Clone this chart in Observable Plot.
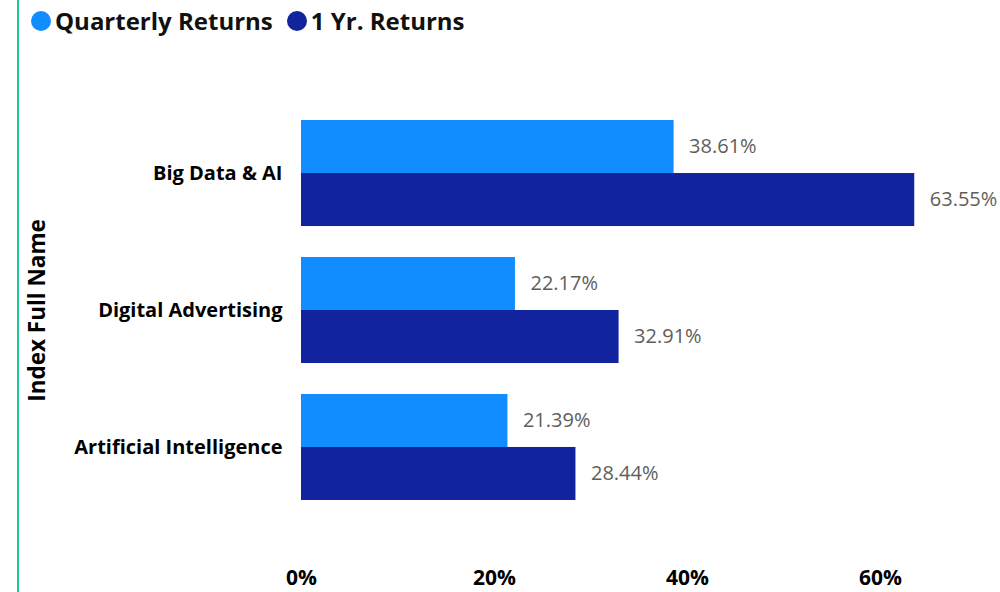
<!DOCTYPE html>
<html>
<head>
<meta charset="utf-8">
<script src="https://cdn.jsdelivr.net/npm/d3@7"></script>
<script src="https://cdn.jsdelivr.net/npm/@observablehq/plot@0.6"></script>
<style>
  html, body { margin: 0; padding: 0; background: #fff; }
  body { font-family: "Segoe UI", "Open Sans", "Noto Sans", sans-serif; }
  #wrap { position: relative; width: 1000px; height: 592px; overflow: hidden; }
  #edge { position: absolute; left: 17px; top: 0; width: 2px; height: 592px; background: #1ec795; }
  #legend { position: absolute; left: 31px; top: 4px; display: flex; align-items: center; font-weight: bold; font-size: 24px; color: #111; }
  #legend .item { display: flex; align-items: center; margin-right: 14px; }
  #legend .dot { width: 20px; height: 20px; border-radius: 50%; margin-right: 4px; }
  #chart { position: absolute; left: 0; top: 0; }
  #chart g[aria-label="fy-axis label"] text { font-weight: bold; font-size: 22.5px; }
</style>
</head>
<body>
<div id="wrap">
  <div id="edge"></div>
  <div id="chart"></div>
  <div id="legend"></div>
</div>
<script>
const categories = ["Big Data & AI", "Digital Advertising", "Artificial Intelligence"];
const series = ["Quarterly Returns", "1 Yr. Returns"];
const seriesColors = ["#118dff", "#12239e"];
const quarterly = [38.61, 22.17, 21.39];
const yearly = [63.55, 32.91, 28.44];
const xTicks = [0, 20, 40, 60];

const data = categories.flatMap((c, i) => [
  {category: c, series: series[0], value: quarterly[i]},
  {category: c, series: series[1], value: yearly[i]}
]);

const legend = document.getElementById("legend");
series.forEach((s, i) => {
  const item = document.createElement("div");
  item.className = "item";
  const dot = document.createElement("span");
  dot.className = "dot";
  dot.style.background = seriesColors[i];
  const label = document.createElement("span");
  label.textContent = s;
  item.appendChild(dot);
  item.appendChild(label);
  legend.appendChild(item);
});

const chart = Plot.plot({
  width: 1000,
  height: 592,
  marginLeft: 301,
  marginRight: 23.5,
  marginTop: 120,
  marginBottom: 92,
  style: {fontFamily: '"Segoe UI", "Open Sans", "Noto Sans", sans-serif', background: "transparent", color: "#000"},
  x: {domain: [0, 70], axis: null},
  y: {domain: series, axis: null, padding: 0, round: false},
  fy: {domain: categories, paddingInner: 0.226, paddingOuter: 0, axis: null, round: false},
  color: {domain: series, range: seriesColors},
  marks: [
    Plot.barX(data, {fy: "category", y: "series", x: "value", fill: "series"}),
    Plot.text(data, {
      fy: "category", y: "series", x: "value",
      text: d => d.value.toFixed(2) + "%",
      textAnchor: "start", dx: 15, fill: "#605e5c", fontSize: 20
    }),
    Plot.axisFy({
      anchor: "left", tickSize: 0, tickPadding: 19, fontSize: 20, fontWeight: "bold",
      label: "Index Full Name", labelAnchor: "center", labelOffset: 272
    }),
    Plot.axisX({
      ticks: xTicks, tickFormat: d => d + "%", tickSize: 0, tickPadding: 70,
      fontSize: 21, fontWeight: "bold", label: null
    })
  ]
});
document.getElementById("chart").appendChild(chart);
</script>
</body>
</html>
